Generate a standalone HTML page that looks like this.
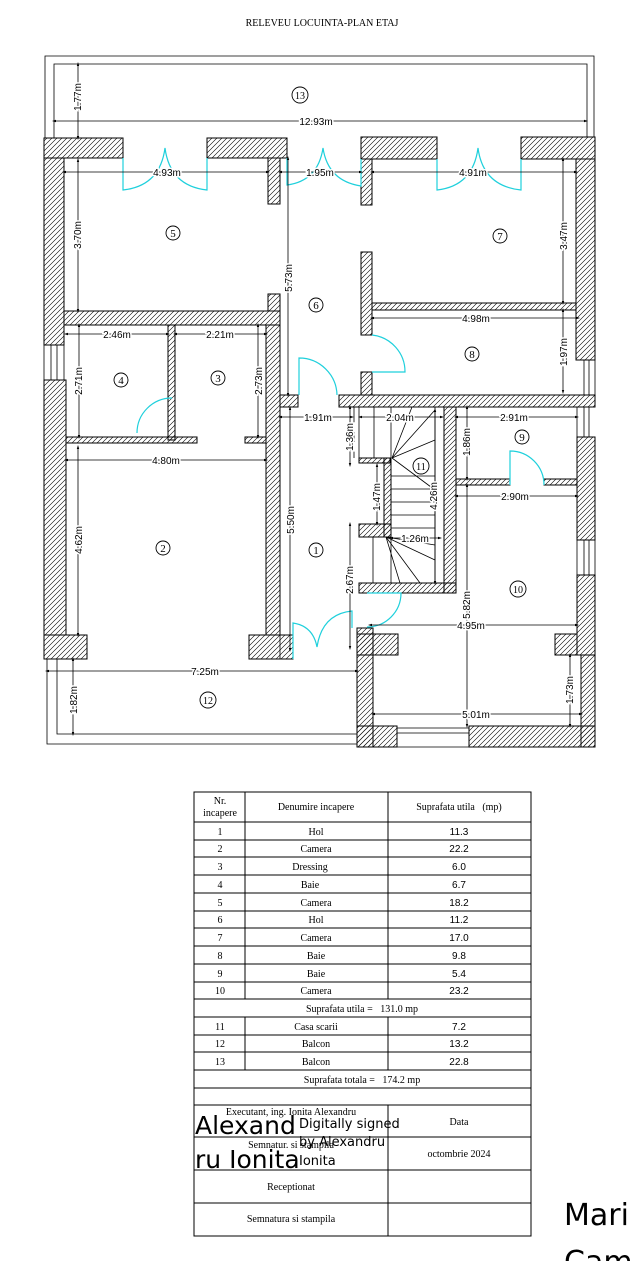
<!DOCTYPE html>
<html><head><meta charset="utf-8"><style>
html,body{margin:0;padding:0;background:#fff;}
svg{display:block;}
.t{font-family:"Liberation Serif",serif;font-size:10px;fill:#000;}
.s{font-family:"Liberation Sans",sans-serif;font-size:10px;fill:#000;}
.d{font-family:"Liberation Sans",sans-serif;font-size:10px;fill:#000;stroke:#fff;stroke-width:3px;paint-order:stroke;}
.n{font-family:"Liberation Serif",serif;font-size:11px;fill:#000;}
.w{fill:url(#h);stroke:#000;stroke-width:1;}
.dl{stroke:#000;stroke-width:0.8;marker-start:url(#a);marker-end:url(#a);}
.dr{fill:none;stroke:#1fd0dc;stroke-width:1.2;}
.ln{stroke:#000;stroke-width:0.8;fill:none;}
</style></head><body>
<svg width="631" height="1261" viewBox="0 0 631 1261" xmlns="http://www.w3.org/2000/svg">
<defs>
<pattern id="h" patternUnits="userSpaceOnUse" width="5" height="5"><path d="M-1,6 L6,-1 M-1,1 L1,-1 M4,6 L6,4" stroke="#000" stroke-width="0.6"/></pattern>
<marker id="a" viewBox="0 0 10 10" refX="5" refY="5" markerWidth="5" markerHeight="5" orient="auto-start-reverse"><path d="M0,2 L10,5 L0,8 z" fill="#000"/></marker>
</defs>
<text x="322" y="26" class="t" text-anchor="middle" font-size="10">RELEVEU LOCUINTA-PLAN ETAJ</text>

<path class="ln" d="M45,138 V56 H594 V137 M54,138 V64 H587 V137" stroke-width="1"/>
<path class="ln" d="M47,659 V744 H357 M57,659 V734 H357" stroke-width="1"/>

<g class="w">
<rect x="44" y="138" width="79" height="20"/>
<rect x="44" y="158" width="20" height="187"/>
<rect x="44" y="380" width="22" height="255"/>
<rect x="44" y="635" width="43" height="24"/>
<rect x="207" y="138" width="80" height="20"/>
<rect x="268" y="158" width="12" height="46"/>
<rect x="64" y="311" width="216" height="14"/>
<rect x="268" y="294" width="12" height="17"/>
<rect x="266" y="325" width="14" height="310"/>
<rect x="249" y="635" width="44" height="24"/>
<rect x="168" y="325" width="7" height="115"/>
<rect x="66" y="437" width="131" height="6"/>
<rect x="245" y="437" width="21" height="6"/>
<rect x="280" y="395" width="18" height="12"/>
<rect x="361" y="137" width="76" height="22"/>
<rect x="361" y="159" width="11" height="46"/>
<rect x="521" y="137" width="74" height="22"/>
<rect x="576" y="159" width="19" height="201"/>
<rect x="339" y="395" width="256" height="12"/>
<rect x="372" y="303" width="204" height="7"/>
<rect x="361" y="252" width="11" height="83"/>
<rect x="361" y="372" width="11" height="23"/>
<rect x="577" y="437" width="18" height="103"/>
<rect x="577" y="575" width="18" height="80"/>
<rect x="581" y="655" width="14" height="92"/>
<rect x="359" y="458" width="31" height="5"/>
<rect x="384" y="458" width="7" height="79"/>
<rect x="359" y="524" width="32" height="13"/>
<rect x="359" y="583" width="97" height="10"/>
<rect x="444" y="407" width="12" height="186"/>
<rect x="456" y="479" width="54" height="6"/>
<rect x="544" y="479" width="33" height="6"/>
<rect x="357" y="634" width="41" height="21"/>
<rect x="357" y="628" width="16" height="119"/>
<rect x="357" y="726" width="40" height="21"/>
<rect x="469" y="726" width="126" height="21"/>
<rect x="555" y="634" width="22" height="21"/>
</g>
<path class="ln" d="M44,345 H64 V380 H44 Z M51,345 V380 M57,345 V380"/>
<path class="ln" d="M578,360 H595 V395 M584,360 V395 M589,360 V395"/>
<path class="ln" d="M577,407 V437 M584,407 V437 M589,407 V437"/>
<path class="ln" d="M577,540 H595 V575 H577 Z M584,540 V575 M589,540 V575"/>
<path class="ln" d="M397,728 H469 M397,733 H469 M397,747 H469"/>
<path class="ln" d="M280,407 V659 M354,407 V458"/>
<path class="ln" d="M359,407 H444 M359,407 V458 M374,407 V458 M391,407 V458 M435,407 V583 M392,458 L435,410 M392,458 L412,407 M392,458 L435,440 M392,458 L435,490 M391,476 H435 M391,489 H435 M391,502 H435 M391,515 H435 M391,528 H435 M391,537 V583 M373,537 V583 M386,537 L435,560 M386,537 L420,583 M386,537 L400,583 M386,537 L435,545"/>
<path class="dr" d="M123,158 V190 Q160,186 165,148 Q170,186 207,190 V158"/>
<path class="dr" d="M287,158 V185 Q318,181 323,148 Q328,181 361,186 V159"/>
<path class="dr" d="M437,159 V190 Q473,186 478,148 Q483,186 521,190 V159"/>
<path class="dr" d="M299,395 V358 A38,38 0 0 1 337,395"/>
<path class="dr" d="M372,335 A37,37 0 0 1 405,372 H372"/>
<path class="dr" d="M137,433 A35,35 0 0 1 172,398"/>
<path class="dr" d="M510,485 V451 A34,34 0 0 1 544,485"/>
<path class="dr" d="M367,593 H401 A34,34 0 0 1 367,627"/>
<path class="dr" d="M293,659 V623 Q313,626 317,647 Q322,614 352,611 V628"/>

<g>
<line class="dl" x1="54" y1="121" x2="586" y2="121"/><text class="d" x="316" y="125" text-anchor="middle">12.93m</text>
<line class="dl" x1="78" y1="64" x2="78" y2="138"/><text class="d" transform="translate(81,97) rotate(-90)" text-anchor="middle">1.77m</text>
<line class="dl" x1="64" y1="172" x2="268" y2="172"/><text class="d" x="167" y="176" text-anchor="middle">4.93m</text>
<line class="dl" x1="78" y1="160" x2="78" y2="311"/><text class="d" transform="translate(81,235) rotate(-90)" text-anchor="middle">3.70m</text>
<line class="dl" x1="280" y1="172" x2="361" y2="172"/><text class="d" x="320" y="176" text-anchor="middle">1.95m</text>
<line class="dl" x1="288" y1="158" x2="288" y2="395"/><text class="d" transform="translate(292,278) rotate(-90)" text-anchor="middle">5.73m</text>
<line class="dl" x1="372" y1="172" x2="576" y2="172"/><text class="d" x="473" y="176" text-anchor="middle">4.91m</text>
<line class="dl" x1="563" y1="159" x2="563" y2="303"/><text class="d" transform="translate(567,236) rotate(-90)" text-anchor="middle">3.47m</text>
<line class="dl" x1="372" y1="318" x2="578" y2="318"/><text class="d" x="476" y="322" text-anchor="middle">4.98m</text>
<line class="dl" x1="563" y1="310" x2="563" y2="392"/><text class="d" transform="translate(567,352) rotate(-90)" text-anchor="middle">1.97m</text>
<line class="dl" x1="66" y1="334" x2="168" y2="334"/><text class="d" x="117" y="338" text-anchor="middle">2.46m</text>
<line class="dl" x1="175" y1="334" x2="266" y2="334"/><text class="d" x="220" y="338" text-anchor="middle">2.21m</text>
<line class="dl" x1="79" y1="325" x2="79" y2="437"/><text class="d" transform="translate(82,381) rotate(-90)" text-anchor="middle">2.71m</text>
<line class="dl" x1="258" y1="325" x2="258" y2="437"/><text class="d" transform="translate(262,381) rotate(-90)" text-anchor="middle">2.73m</text>
<line class="dl" x1="66" y1="460" x2="266" y2="460"/><text class="d" x="166" y="464" text-anchor="middle">4.80m</text>
<line class="dl" x1="78" y1="447" x2="78" y2="635"/><text class="d" transform="translate(82,540) rotate(-90)" text-anchor="middle">4.62m</text>
<line class="dl" x1="290" y1="408" x2="290" y2="650"/><text class="d" transform="translate(294,520) rotate(-90)" text-anchor="middle">5.50m</text>
<line class="dl" x1="280" y1="417" x2="352" y2="417"/><text class="d" x="318" y="421" text-anchor="middle">1.91m</text>
<line class="dl" x1="360" y1="417" x2="442" y2="417"/><text class="d" x="400" y="421" text-anchor="middle">2.04m</text>
<line class="dl" x1="350" y1="407" x2="350" y2="465"/><text class="d" transform="translate(353,437) rotate(-90)" text-anchor="middle">1.36m</text>
<line class="dl" x1="377" y1="465" x2="377" y2="524"/><text class="d" transform="translate(380,497) rotate(-90)" text-anchor="middle">1.47m</text>
<line class="dl" x1="435" y1="410" x2="435" y2="583"/><text class="d" transform="translate(437,496) rotate(-90)" text-anchor="middle">4.26m</text>
<line class="dl" x1="391" y1="538" x2="440" y2="538"/><text class="d" x="415" y="542" text-anchor="middle">1.26m</text>
<line class="dl" x1="350" y1="524" x2="350" y2="648"/><text class="d" transform="translate(353,580) rotate(-90)" text-anchor="middle">2.67m</text>
<line class="dl" x1="456" y1="417" x2="577" y2="417"/><text class="d" x="514" y="421" text-anchor="middle">2.91m</text>
<line class="dl" x1="467" y1="407" x2="467" y2="479"/><text class="d" transform="translate(470,442) rotate(-90)" text-anchor="middle">1.86m</text>
<line class="dl" x1="456" y1="496" x2="577" y2="496"/><text class="d" x="515" y="500" text-anchor="middle">2.90m</text>
<line class="dl" x1="467" y1="485" x2="467" y2="726"/><text class="d" transform="translate(470,605) rotate(-90)" text-anchor="middle">5.82m</text>
<line class="dl" x1="370" y1="625" x2="577" y2="625"/><text class="d" x="471" y="629" text-anchor="middle">4.95m</text>
<line class="dl" x1="570" y1="655" x2="570" y2="726"/><text class="d" transform="translate(573,690) rotate(-90)" text-anchor="middle">1.73m</text>
<line class="dl" x1="373" y1="714" x2="581" y2="714"/><text class="d" x="476" y="718" text-anchor="middle">5.01m</text>
<line class="dl" x1="47" y1="671" x2="357" y2="671"/><text class="d" x="205" y="675" text-anchor="middle">7.25m</text>
<line class="dl" x1="73" y1="659" x2="73" y2="734"/><text class="d" transform="translate(77,700) rotate(-90)" text-anchor="middle">1.82m</text>
</g>

<g fill="#fff" stroke="#000" stroke-width="0.9">
<circle cx="300" cy="95" r="8"/><circle cx="173" cy="233" r="7"/><circle cx="316" cy="305" r="7"/><circle cx="500" cy="236" r="7"/>
<circle cx="121" cy="380" r="7"/><circle cx="218" cy="378" r="7"/><circle cx="472" cy="354" r="7"/><circle cx="522" cy="437" r="7"/>
<circle cx="421" cy="466" r="8"/><circle cx="163" cy="548" r="7"/><circle cx="316" cy="550" r="7"/><circle cx="518" cy="589" r="8"/><circle cx="208" cy="700" r="8"/>
</g>
<g class="n" text-anchor="middle">
<text x="300" y="99" font-size="10">13</text><text x="173" y="237">5</text><text x="316" y="309">6</text><text x="500" y="240">7</text>
<text x="121" y="384">4</text><text x="218" y="382">3</text><text x="472" y="358">8</text><text x="522" y="441">9</text>
<text x="421" y="470" font-size="10">11</text><text x="163" y="552">2</text><text x="316" y="554">1</text><text x="518" y="593" font-size="10">10</text><text x="208" y="704" font-size="10">12</text>
</g>

<g stroke="#000" stroke-width="1" fill="none">
<rect x="194" y="792" width="337" height="444"/>
<path d="M194,822 H531 M194,840 H531 M194,857 H531 M194,875 H531 M194,893 H531 M194,911 H531 M194,928 H531 M194,946 H531 M194,964 H531 M194,982 H531 M194,999 H531 M194,1017 H531 M194,1035 H531 M194,1052 H531 M194,1070 H531 M194,1088 H531 M194,1105 H531 M194,1137 H531 M194,1170 H531 M194,1203 H531"/>
<path d="M245,792 V999 M388,792 V999 M245,1017 V1070 M388,1017 V1070 M388,1105 V1236"/>
</g>
<g class="t" text-anchor="middle">
<text x="220" y="804">Nr.</text><text x="220" y="816">incapere</text>
<text x="316" y="810">Denumire incapere</text>
<text x="459" y="810">Suprafata utila &#160;&#160;(mp)</text>
<text x="220" y="835">1</text><text x="316" y="835">Hol</text>
<text x="220" y="852">2</text><text x="316" y="852">Camera</text>
<text x="220" y="870">3</text><text x="310" y="870">Dressing</text>
<text x="220" y="888">4</text><text x="310" y="888">Baie</text>
<text x="220" y="906">5</text><text x="316" y="906">Camera</text>
<text x="220" y="923">6</text><text x="316" y="923">Hol</text>
<text x="220" y="941">7</text><text x="316" y="941">Camera</text>
<text x="220" y="959">8</text><text x="316" y="959">Baie</text>
<text x="220" y="977">9</text><text x="316" y="977">Baie</text>
<text x="220" y="994">10</text><text x="316" y="994">Camera</text>
<text x="362" y="1012">Suprafata utila = &#160;&#160;131.0 mp</text>
<text x="220" y="1030">11</text><text x="316" y="1030">Casa scarii</text>
<text x="220" y="1047">12</text><text x="316" y="1047">Balcon</text>
<text x="220" y="1065">13</text><text x="316" y="1065">Balcon</text>
<text x="362" y="1083">Suprafata totala = &#160;&#160;174.2 mp</text>
<text x="291" y="1115">Executant, ing. Ionita Alexandru</text>
<text x="291" y="1148">Semnatur. si stampila</text>
<text x="459" y="1125">Data</text>
<text x="459" y="1157">octombrie 2024</text>
<text x="291" y="1190">Receptionat</text>
<text x="291" y="1222">Semnatura si stampila</text>
</g>
<g class="s" text-anchor="middle">
<text x="459" y="835">11.3</text><text x="459" y="852">22.2</text><text x="459" y="870">6.0</text><text x="459" y="888">6.7</text>
<text x="459" y="906">18.2</text><text x="459" y="923">11.2</text><text x="459" y="941">17.0</text><text x="459" y="959">9.8</text>
<text x="459" y="977">5.4</text><text x="459" y="994">23.2</text>
<text x="459" y="1030">7.2</text><text x="459" y="1047">13.2</text><text x="459" y="1065">22.8</text>
</g>
<g font-family="DejaVu Sans, sans-serif" fill="#000">
<text x="195" y="1134" font-size="25">Alexand</text>
<text x="195" y="1168" font-size="25">ru Ionita</text>
<text x="299" y="1128" font-size="13">Digitally signed</text>
<text x="299" y="1146" font-size="13">by Alexandru</text>
<text x="299" y="1165" font-size="13">Ionita</text>
<text x="564" y="1225" font-size="30">Mari</text>
<text x="564" y="1272" font-size="30">Cam</text>
</g>
</svg>
</body></html>
